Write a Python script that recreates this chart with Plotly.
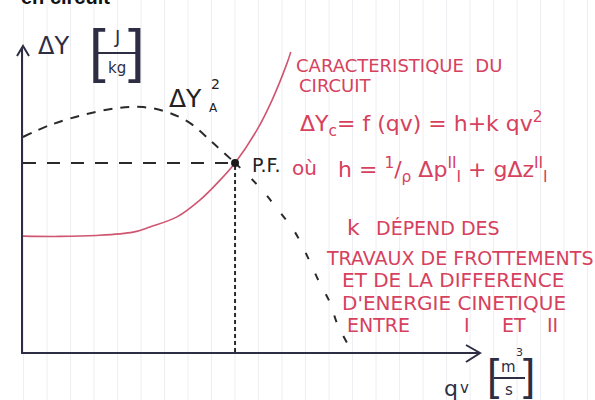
import plotly.graph_objects as go

# Operating point of the pump on the circuit
pf_qv = 4.64
pf_dy = 6.2

# Circuit characteristic  ΔYc = f(qv) = h + k qv²
circuit_qv = [0.0, 0.8, 1.6, 2.41, 2.78, 3.37, 3.87, 4.27, 4.64, 5.12, 5.45, 5.78, 5.86]
circuit_dy = [3.8, 3.79, 3.82, 3.93, 4.1, 4.43, 4.98, 5.57, 6.2, 7.28, 8.26, 9.48, 9.84]

# Pump curve ΔY_A (dashed), rising part up to the operating point
pump_up_qv = [0.0, 0.59, 1.31, 2.06, 2.63, 3.15, 3.65, 4.16, 4.64]
pump_up_dy = [7.05, 7.44, 7.77, 8.0, 8.03, 7.87, 7.51, 6.85, 6.2]
# ... and falling part beyond it
pump_down_qv = [4.64, 5.19, 5.58, 5.95, 6.24, 6.46, 6.72, 6.87, 7.09]
pump_down_dy = [6.2, 5.38, 4.66, 3.93, 3.08, 2.36, 1.61, 0.95, 0.3]

W, H = 595, 400
L, R, T, B = 23, 115, 47, 48
PW, PH = W - L - R, H - T - B

RED = "#d6415e"
RED_LINE = "#cf5570"
INK = "#2d2d44"
DASH = "#2a2a2a"
FONT = "DejaVu Sans"
NB = "\u00a0"


def px(x):
    return (x - L) / PW


def py(y):
    return (H - B - y) / PH


fig = go.Figure()

fig.add_trace(go.Scatter(x=[0, pf_qv], y=[pf_dy, pf_dy], mode="lines",
                         line=dict(color=DASH, width=2, dash="13px,11px"),
                         hoverinfo="skip"))
fig.add_trace(go.Scatter(x=[pf_qv, pf_qv], y=[0, pf_dy], mode="lines",
                         line=dict(color=DASH, width=2, dash="4px,3px"),
                         hoverinfo="skip"))
fig.add_trace(go.Scatter(x=pump_up_qv, y=pump_up_dy, mode="lines",
                         line=dict(color=DASH, width=2, dash="9px,8px", shape="spline"),
                         hoverinfo="skip"))
fig.add_trace(go.Scatter(x=pump_down_qv, y=pump_down_dy, mode="lines",
                         line=dict(color=DASH, width=2, dash="7px,16px", shape="spline"),
                         hoverinfo="skip"))
fig.add_trace(go.Scatter(x=circuit_qv, y=circuit_dy, mode="lines",
                         line=dict(color=RED_LINE, width=1.6, shape="spline"),
                         hoverinfo="skip"))
fig.add_trace(go.Scatter(x=[pf_qv], y=[pf_dy], mode="markers",
                         marker=dict(color="#1a1a1a", size=8),
                         hoverinfo="skip"))

shapes = []
# faint ruled lines of the notebook page
k = 1
while 23.5 * k < W:
    xx = 23.5 * k
    shapes.append(dict(type="line", xref="paper", yref="paper",
                       x0=px(xx), x1=px(xx), y0=py(H), y1=py(0),
                       line=dict(color="#eeeef2", width=1), layer="below"))
    k += 1

# arrowheads on the axes
shapes.append(dict(type="path", xref="paper", yref="paper",
                   path=f"M {px(17)} {py(56)} L {px(23)} {py(46)} L {px(29)} {py(56)}",
                   line=dict(color=INK, width=2)))
shapes.append(dict(type="path", xref="paper", yref="paper",
                   path=f"M {px(466)} {py(345)} L {px(480)} {py(353)} L {px(466)} {py(362)}",
                   line=dict(color=INK, width=2)))
# fraction bars in the unit labels
shapes.append(dict(type="line", xref="paper", yref="paper",
                   x0=px(98), x1=px(136), y0=py(53), y1=py(53),
                   line=dict(color=INK, width=2)))
shapes.append(dict(type="line", xref="paper", yref="paper",
                   x0=px(494), x1=px(525), y0=py(378), y1=py(378),
                   line=dict(color=INK, width=2)))

ann = []


def text(x, y, s, size, color, anchor="left", family=FONT):
    ann.append(dict(x=px(x), y=py(y), xref="paper", yref="paper", text=s,
                    showarrow=False, xanchor=anchor, yanchor="middle",
                    font=dict(family=family, size=size, color=color)))


# page heading (cut by the top edge)
text(112, -3, "<b>en circuit</b>", 20, "#111111", anchor="right",
     family="Liberation Sans")

# y-axis label  ΔY [J/kg]
text(36, 46, "ΔY", 24, INK)
text(87, 50, "[", 60, INK, family="Liberation Sans")
text(126, 50, "]", 60, INK, family="Liberation Sans")
text(117, 36, "J", 18, INK, anchor="center")
text(117, 68, "kg", 15, INK, anchor="center")

# x-axis label  qv [m³/s]
text(442, 388, "q", 22, INK)
text(458, 388, "v", 15, INK)
text(485, 374, "[", 44, INK, family="Liberation Sans")
text(521, 374, "]", 44, INK, family="Liberation Sans")
text(509, 367, "m", 15, INK, anchor="center")
text(519, 352, "3", 11, INK, anchor="center")
text(509, 390, "s", 15, INK, anchor="center")

# pump curve label ΔY_A²
text(167, 98, "ΔY", 25, "#222222")
text(209, 84, "2", 14, "#222222")
text(207, 108, "A", 12, "#222222")

# operating point
text(250, 165, "P.F.", 19, "#222222")
text(290, 168, "où", 20, RED)

# circuit characteristic notes
text(294, 65, f"CARACTERISTIQUE{NB}{NB}DU", 18, RED)
text(297, 86, "CIRCUIT", 18, RED)
text(298, 124, "ΔY<sub>c</sub>= f (qv) = h+k qv<sup>2</sup>", 22, RED)
text(336, 170, f"h ={NB}<sup>1</sup>/<sub>ρ</sub>{NB}Δp<sup>II</sup><sub>I</sub>{NB}+{NB}gΔz<sup>II</sup><sub>I</sub>", 22, RED)
text(345, 227, "k", 22, RED)
text(374, 228, f"DÉPEND{NB}DES", 19, RED)
text(324, 258, "TRAVAUX DE FROTTEMENTS", 19, RED)
text(340, 280, f"ET{NB}DE{NB}LA{NB}DIFFERENCE", 20, RED)
text(340, 303, f"D'ENERGIE{NB}CINETIQUE", 20, RED)
text(345, 325, "ENTRE", 19, RED)
text(462, 325, "I", 19, RED)
text(500, 325, "ET", 19, RED)
text(545, 325, "II", 19, RED)

fig.update_layout(
    width=W, height=H,
    margin=dict(l=L, r=R, t=T, b=B),
    paper_bgcolor="white", plot_bgcolor="rgba(0,0,0,0)",
    showlegend=False,
    shapes=shapes, annotations=ann,
    xaxis=dict(range=[0, 10], showgrid=False, zeroline=False, showticklabels=False,
               ticks="", showline=True, linecolor=INK, linewidth=2, fixedrange=True),
    yaxis=dict(range=[0, 10], showgrid=False, zeroline=False, showticklabels=False,
               ticks="", showline=True, linecolor=INK, linewidth=2, fixedrange=True),
)

fig.write_html("out.html")
